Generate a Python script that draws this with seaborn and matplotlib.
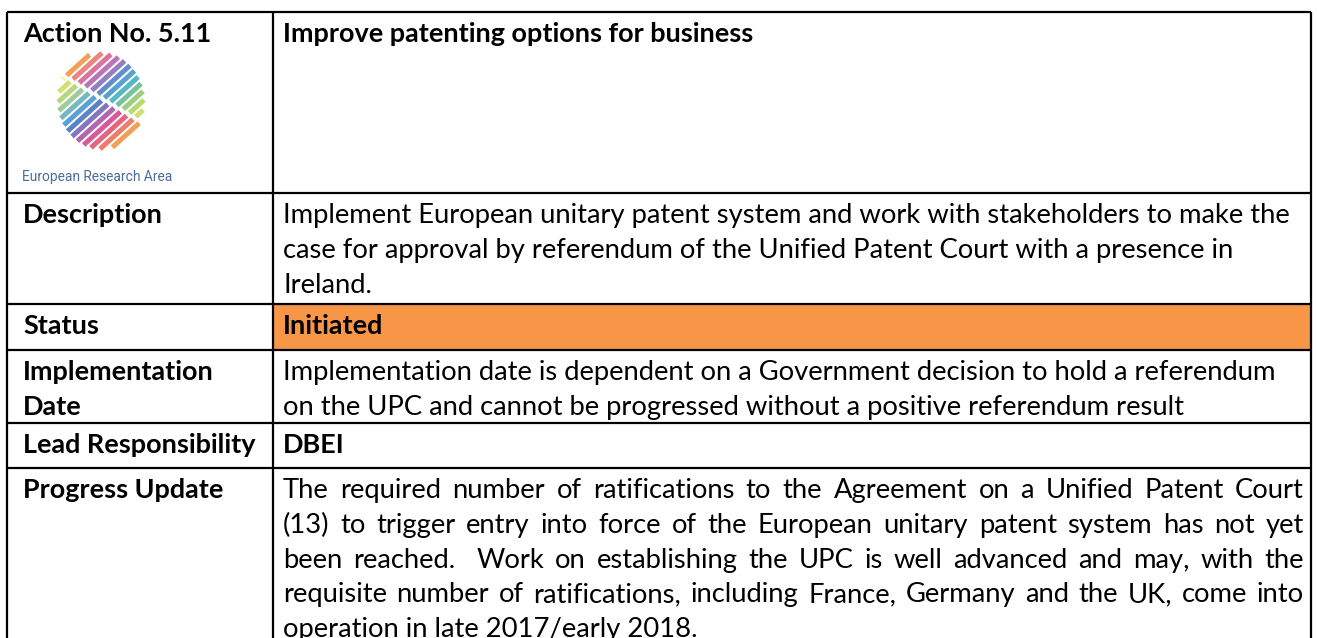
import re
import matplotlib
matplotlib.use("Agg")
import matplotlib.pyplot as plt
from matplotlib.patches import Rectangle
import seaborn as sns
import numpy as np

sns.set_theme(style="white")
FONT = ["Lato", "DejaVu Sans"]
plt.rcParams["font.family"] = FONT

# ---------------- data ----------------
row_labels = ["Action No. 5.11", "Description", "Status",
              "Implementation\nDate", "Lead Responsibility", "Progress Update"]
title_text = ["Improve patenting options for business"]
description_text = [
    "Implement European unitary patent system and work with stakeholders to make the",
    "case for approval by referendum of the Unified Patent Court with a presence in",
    "Ireland.",
]
status_text = ["Initiated"]
implementation_text = [
    "Implementation date is dependent on a Government decision to hold a referendum",
    "on the UPC and cannot be progressed without a positive referendum result",
]
lead_text = ["DBEI"]
progress_text = [
    "The required number of ratifications to the Agreement on a Unified Patent Court",
    "(13) to trigger entry into force of the European unitary patent system has not yet",
    "been reached.  Work on establishing the UPC is well advanced and may, with the",
    "requisite number of ratifications, including France, Germany and the UK, come into",
    "operation in late 2017/early 2018.",
]
logo_caption = "European Research Area"
status_colour = "#F79646"
row_contents = [title_text, description_text, status_text,
                implementation_text, lead_text, progress_text]
content_bold = [True, False, True, False, True, False]
content_justified = [False, False, False, False, False, True]

# ---------------- layout ----------------
W, H = 1318, 638
X0, XDIV, X1 = 7, 273, 1311
ROW_TOPS = [12, 193, 304, 350, 423, 468]
TABLE_BOTTOM = 720
FIRST_BASELINE = 30
LINE_STEP = 34.8
LABEL_X, CONTENT_X, CONTENT_RIGHT = 23, 283, 1304

fig = plt.figure(figsize=(W / 100, H / 100), dpi=100)
ax = fig.add_axes([0, 0, 1, 1])
ax.set_xlim(0, W)
ax.set_ylim(H, 0)
ax.axis("off")
fig.canvas.draw()
renderer = fig.canvas.get_renderer()


def text_width(s, size, weight="normal", family=FONT):
    t = ax.text(0, 0, s, fontsize=size, fontweight=weight, family=family)
    w = t.get_window_extent(renderer).width
    t.remove()
    return w


body_size = 20 * 1014 / text_width(description_text[0], 20)
bold_size = 20 * 233 / text_width("Lead Responsibility", 20, "bold")

# status fill
ax.add_patch(Rectangle((XDIV, ROW_TOPS[2]), X1 - XDIV, ROW_TOPS[3] - ROW_TOPS[2],
                       facecolor=status_colour, edgecolor="none", zorder=0))

# grid
ax.hlines(ROW_TOPS, X0, X1, color="black", lw=1.6, zorder=3)
ax.vlines([X0, XDIV, X1], ROW_TOPS[0], TABLE_BOTTOM, color="black", lw=1.6, zorder=3)

# labels
for top, lab in zip(ROW_TOPS, row_labels):
    for i, line in enumerate(lab.split("\n")):
        ax.text(LABEL_X, top + FIRST_BASELINE + i * LINE_STEP, line,
                fontsize=bold_size, fontweight="bold", va="baseline", ha="left",
                color="black")


def justified_line(line, y, size, weight):
    parts = re.split(r"( +)", line)
    words = parts[0::2]
    spaces = [len(p) for p in parts[1::2]]
    widths = [text_width(w_, size, weight) for w_ in words]
    free = (CONTENT_RIGHT - CONTENT_X) - sum(widths)
    unit = free / max(sum(spaces), 1)
    x = CONTENT_X
    for k, (w_, wd) in enumerate(zip(words, widths)):
        ax.text(x, y, w_, fontsize=size, fontweight=weight, va="baseline",
                ha="left", color="black")
        x += wd
        if k < len(spaces):
            x += unit * spaces[k]


for top, lines, bold, just in zip(ROW_TOPS, row_contents, content_bold, content_justified):
    size = bold_size if bold else body_size
    weight = "bold" if bold else "normal"
    for i, line in enumerate(lines):
        y = top + FIRST_BASELINE + i * LINE_STEP
        if just and i < len(lines) - 1:
            justified_line(line, y, size, weight)
        else:
            ax.text(CONTENT_X, y, line, fontsize=size, fontweight=weight,
                    va="baseline", ha="left", color="black")

# ---------------- logo ----------------
cx, cy, rx, ry = 101, 101, 43, 48
ang = np.deg2rad(42)
d = np.array([np.cos(ang), -np.sin(ang)])   # stripe direction (up-right)
n = np.array([np.sin(ang), np.cos(ang)])    # normal (down-right)
g0 = np.array([64.0, 76.0])
g = np.array([77.0, 46.0]); g /= np.linalg.norm(g)
offsets = np.arange(-42, 43, 7.0)
lower_pal = sns.blend_palette(["#e9e35c", "#b9d65a", "#8ec38a", "#3fa2d2", "#3a6fc0",
                               "#8a55ad", "#cf3e8a", "#e8505a", "#f0903a"], len(offsets))
upper_pal = sns.blend_palette(["#f0903a", "#e05a86", "#a05cb4", "#3f7cc6", "#35a6c6",
                               "#78c26c", "#b6d650", "#dfe25a"], len(offsets))
for k, s in enumerate(offsets):
    p0 = np.array([cx, cy]) + s * n
    a = (d[0] / rx) ** 2 + (d[1] / ry) ** 2
    b = 2 * ((p0[0] - cx) * d[0] / rx ** 2 + (p0[1] - cy) * d[1] / ry ** 2)
    c = ((p0[0] - cx) / rx) ** 2 + ((p0[1] - cy) / ry) ** 2 - 1
    disc = b * b - 4 * a * c
    if disc <= 0:
        continue
    t1 = (-b - np.sqrt(disc)) / (2 * a)
    t2 = (-b + np.sqrt(disc)) / (2 * a)
    A = np.column_stack([d, -g])
    tg = np.linalg.solve(A, g0 - p0)[0]
    segs = [((t1, min(tg - 2.0, t2)), lower_pal[k]), ((max(tg + 2.0, t1), t2), upper_pal[k])]
    for (ta, tb), col in segs:
        if tb - ta < 1:
            continue
        pa, pb = p0 + ta * d, p0 + tb * d
        ax.plot([pa[0], pb[0]], [pa[1], pb[1]], color=col, lw=3.6,
                solid_capstyle="butt", alpha=0.85, zorder=2)

cap_size = 10 * 150 / text_width(logo_caption, 10, "normal", ["Roboto", "DejaVu Sans"])
ax.text(22, 181, logo_caption, fontsize=cap_size, family=["Roboto", "DejaVu Sans"],
        color="#4d6c9e", va="baseline", ha="left")

fig.savefig("out.png", dpi=100)
